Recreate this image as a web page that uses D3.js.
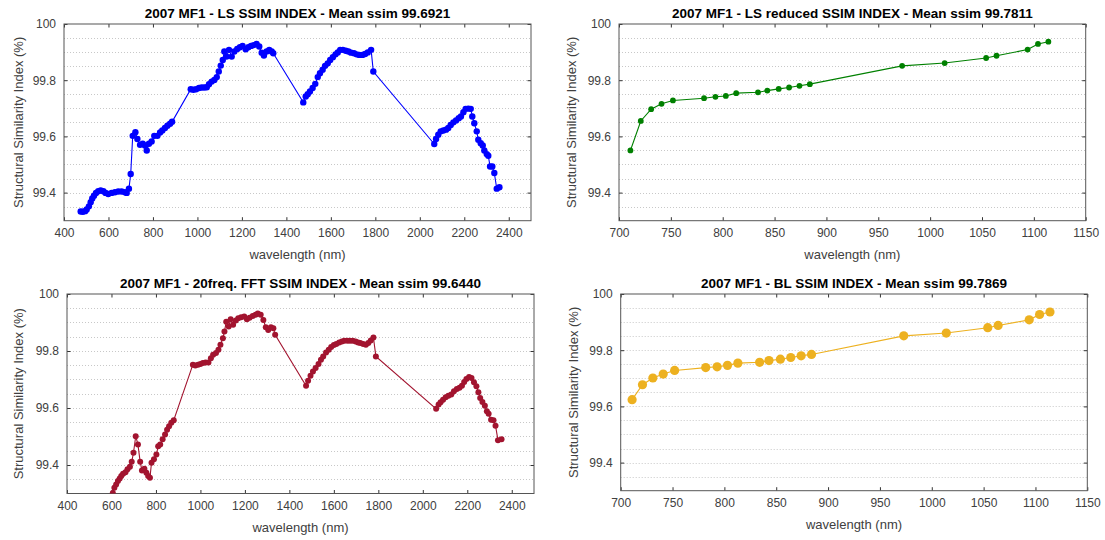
<!DOCTYPE html>
<html><head><meta charset="utf-8">
<script src="https://cdn.jsdelivr.net/npm/d3@7"></script>
<style>
html,body{margin:0;padding:0;background:#fff;}
svg{display:block;font-family:"Liberation Sans",Arial,Helvetica,sans-serif;}
</style></head>
<body>
<svg id="chart" width="1105" height="540"></svg>
<script>
// ---------- DATA ----------
const titles = [
  "2007 MF1 - LS SSIM INDEX - Mean ssim 99.6921",
  "2007 MF1 - LS reduced SSIM INDEX - Mean ssim 99.7811",
  "2007 MF1 - 20freq. FFT SSIM INDEX - Mean ssim 99.6440",
  "2007 MF1 - BL SSIM INDEX - Mean ssim 99.7869"
];
const xLabel = "wavelength (nm)";
const yLabel = "Structural Similarity Index (%)";
const yTicks = [99.4, 99.6, 99.8, 100];
const xTicksFull = [400, 600, 800, 1000, 1200, 1400, 1600, 1800, 2000, 2200, 2400];
const xTicksReduced = [700, 750, 800, 850, 900, 950, 1000, 1050, 1100, 1150];

// LS (full spectrum)
const lsWave = [475,485,495,502,512,520,527,535,544,554,565,577,587,599,614,629,644,659,674,682,692,700,709,721,730,742,754,764,772,782,794,806,820,832,842,854,865,877,886,
  970,982,994,1007,1019,1031,1042,1052,1064,1076,1087,1096,1105,1114,1121,1131,1142,1154,1166,1179,1191,1203,1217,1229,1241,1253,1266,1278,1289,1299,1311,1323,1334,1341,
  1476,1487,1496,1506,1518,1530,1541,1551,1563,1574,1586,1597,1609,1621,1631,1642,1654,1667,1679,1691,1704,1716,1728,1742,1754,1766,1781,1791,
  2065,2073,2083,2094,2106,2118,2128,2139,2151,2163,2175,2185,2196,2206,2218,2229,2236,2245,2256,2263,2274,2283,2290,2301,2308,2316,2326,2335,2346,2358];
const lsSsim = [99.333,99.332,99.334,99.340,99.351,99.366,99.379,99.389,99.399,99.405,99.408,99.405,99.399,99.395,99.399,99.401,99.404,99.404,99.401,99.399,99.414,99.466,99.602,99.615,99.591,99.570,99.574,99.568,99.550,99.574,99.582,99.602,99.602,99.614,99.621,99.630,99.638,99.645,99.652,
  99.768,99.766,99.768,99.772,99.774,99.774,99.775,99.786,99.795,99.801,99.811,99.831,99.852,99.872,99.902,99.884,99.908,99.884,99.902,99.911,99.917,99.922,99.910,99.917,99.922,99.925,99.929,99.920,99.898,99.888,99.902,99.908,99.902,99.896,
  99.721,99.742,99.750,99.760,99.772,99.787,99.811,99.825,99.837,99.851,99.860,99.872,99.882,99.892,99.899,99.908,99.908,99.905,99.902,99.898,99.896,99.892,99.890,99.890,99.893,99.899,99.908,99.831,
  99.573,99.591,99.606,99.618,99.621,99.624,99.630,99.641,99.650,99.657,99.665,99.671,99.686,99.698,99.699,99.698,99.671,99.647,99.618,99.588,99.576,99.568,99.550,99.537,99.531,99.493,99.493,99.470,99.414,99.419];

// LS reduced and BL (selected bands)
const redWave = [711,721,731,741,752,782,793,803,813,834,843,854,864,874,884,973,1014,1054,1064,1094,1104,1114];
const lsRedSsim = [99.550,99.655,99.697,99.716,99.728,99.736,99.741,99.744,99.754,99.757,99.763,99.769,99.774,99.780,99.786,99.851,99.861,99.879,99.887,99.909,99.929,99.937];
const blSsim = [99.624,99.677,99.701,99.715,99.728,99.738,99.741,99.746,99.754,99.757,99.763,99.768,99.774,99.780,99.785,99.851,99.861,99.880,99.888,99.908,99.927,99.936];

// 20freq FFT (full spectrum, lower values clipped by axes)
const fftWave = [606,613,621,629,637,644,652,663,672,683,691,699,709,719,729,737,748,757,765,773,780,791,802,810,819,830,841,850,859,869,880,
  966,977,989,1000,1011,1023,1036,1047,1057,1070,1081,1090,1101,1108,1116,1127,1136,1147,1159,1170,1183,1197,1209,1221,1235,1248,1258,1271,1283,1294,1305,1317,1328,1336,
  1475,1484,1495,1506,1518,1531,1542,1552,1565,1577,1588,1600,1611,1624,1636,1647,1661,1673,1685,1698,1709,1719,1732,1744,1755,1766,1778,1789,
  2060,2071,2080,2091,2103,2115,2128,2140,2153,2165,2176,2186,2196,2208,2219,2230,2241,2250,2258,2268,2279,2288,2296,2307,2318,2327,2338,2354];
const fftSsim = [99.302,99.320,99.332,99.344,99.353,99.361,99.369,99.375,99.385,99.394,99.411,99.443,99.501,99.472,99.411,99.381,99.387,99.373,99.361,99.355,99.408,99.420,99.437,99.466,99.472,99.490,99.507,99.524,99.536,99.548,99.557,
  99.752,99.749,99.752,99.754,99.758,99.760,99.760,99.775,99.787,99.793,99.804,99.822,99.845,99.868,99.903,99.886,99.911,99.892,99.907,99.915,99.918,99.921,99.911,99.917,99.923,99.927,99.932,99.927,99.909,99.883,99.874,99.883,99.880,99.857,
  99.678,99.696,99.713,99.728,99.740,99.754,99.769,99.781,99.795,99.804,99.814,99.821,99.825,99.830,99.833,99.836,99.836,99.836,99.836,99.833,99.830,99.828,99.825,99.822,99.828,99.837,99.847,99.781,
  99.597,99.612,99.620,99.629,99.638,99.643,99.647,99.659,99.667,99.671,99.678,99.691,99.702,99.709,99.705,99.690,99.676,99.655,99.635,99.621,99.608,99.589,99.580,99.559,99.557,99.538,99.487,99.490];

const gridStep = [99.35,99.4,99.45,99.5,99.55,99.6,99.65,99.7,99.75,99.8,99.85,99.9,99.95];

// ---------- DRAW ----------
const svg = d3.select("#chart");
svg.append("rect").attr("width",1105).attr("height",540).attr("fill","#fff");

const panels = [
  {title:titles[0], x:[64,531], y:[24,220.7], xd:[400,2500], xt:xTicksFull, wave:lsWave, vals:lsSsim, color:"#0000ff", r:3.2, ylx:18},
  {title:titles[1], x:[619,1085.7], y:[24,220.7], xd:[700,1150], xt:xTicksReduced, wave:redWave, vals:lsRedSsim, color:"#008000", r:2.9, ylx:571},
  {title:titles[2], x:[67,534], y:[294,493.5], xd:[400,2500], xt:xTicksFull, wave:fftWave, vals:fftSsim, color:"#a2142f", r:3.0, ylx:18.5},
  {title:titles[3], x:[620.7,1087.3], y:[294,490.7], xd:[700,1150], xt:xTicksReduced, wave:redWave, vals:blSsim, color:"#edb120", r:4.6, ylx:573}
];

panels.forEach((p,i) => {
  const xs = d3.scaleLinear().domain(p.xd).range(p.x);
  const ys = d3.scaleLinear().domain([99.3,100]).range([p.y[1], p.y[0]]);
  const g = svg.append("g");
  const w = p.x[1]-p.x[0], h = p.y[1]-p.y[0];

  // grid
  g.selectAll(".grid").data(gridStep).enter().append("line")
    .attr("x1",p.x[0]).attr("x2",p.x[1])
    .attr("y1",d=>Math.round(ys(d))+0.5).attr("y2",d=>Math.round(ys(d))+0.5)
    .attr("stroke","#c8c8c8").attr("stroke-width",1).attr("stroke-dasharray","1,2");

  // clip
  const cid = "clip"+i;
  svg.append("clipPath").attr("id",cid).append("rect")
    .attr("x",p.x[0]).attr("y",p.y[0]).attr("width",w).attr("height",h);

  // axes (inward ticks, on all sides)
  const axB = d3.axisBottom(xs).tickValues(p.xt).tickSize(-3.5).tickPadding(8).tickFormat(d3.format("d"));
  const axT = d3.axisTop(xs).tickValues(p.xt).tickSize(-3.5).tickFormat("");
  const axL = d3.axisLeft(ys).tickValues(yTicks).tickSize(-3.5).tickPadding(8).tickFormat(d=>d===100?"100":d3.format(".1f")(d));
  const axR = d3.axisRight(ys).tickValues(yTicks).tickSize(-3.5).tickFormat("");
  const styleAx = sel => {
    sel.select(".domain").remove();
    sel.selectAll("line").attr("stroke","#333");
    sel.selectAll("text").attr("fill","#404040").style("font-size","12px").style("font-family","'Liberation Sans',Arial,sans-serif");
  };
  g.append("g").attr("transform",`translate(0,${p.y[1]})`).call(axB).call(styleAx);
  g.append("g").attr("transform",`translate(0,${p.y[0]})`).call(axT).call(styleAx);
  g.append("g").attr("transform",`translate(${p.x[0]},0)`).call(axL).call(styleAx);
  g.append("g").attr("transform",`translate(${p.x[1]},0)`).call(axR).call(styleAx);

  // box
  g.append("rect").attr("x",p.x[0]).attr("y",p.y[0]).attr("width",w).attr("height",h)
    .attr("fill","none").attr("stroke","#555").attr("stroke-width",1);

  // data
  const pts = p.wave.map((wv,k)=>({x:wv, y:p.vals[k]}));
  const line = d3.line().x(d=>xs(d.x)).y(d=>ys(d.y));
  const dg = g.append("g").attr("clip-path",`url(#${cid})`);
  dg.append("path").datum(pts).attr("d",line).attr("fill","none").attr("stroke",p.color).attr("stroke-width",1.1);
  dg.selectAll("circle").data(pts).enter().append("circle")
    .attr("cx",d=>xs(d.x)).attr("cy",d=>ys(d.y)).attr("r",p.r).attr("fill",p.color);

  // title
  g.append("text").attr("x",(p.x[0]+p.x[1])/2).attr("y",p.y[0]-6.5).attr("text-anchor","middle")
    .style("font-size","13.5px").style("font-weight","bold").attr("fill","#000").text(p.title);
  // x label
  g.append("text").attr("x",(p.x[0]+p.x[1])/2).attr("y",p.y[1]+38).attr("text-anchor","middle")
    .style("font-size","13px").attr("fill","#404040").text(xLabel);
  // y label
  g.append("text").attr("transform",`translate(${p.ylx+4.5},${(p.y[0]+p.y[1])/2}) rotate(-90)`).attr("text-anchor","middle")
    .style("font-size","13px").attr("fill","#404040").text(yLabel);
});
</script>
</body></html>
